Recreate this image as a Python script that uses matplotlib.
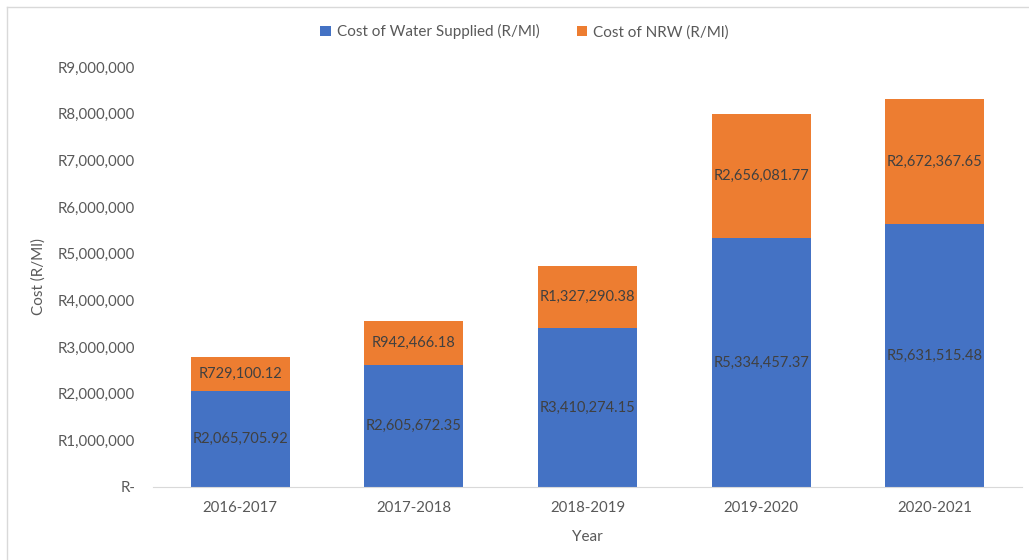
import matplotlib.pyplot as plt
from matplotlib.lines import Line2D
from matplotlib.ticker import FuncFormatter

years = ['2016-2017', '2017-2018', '2018-2019', '2019-2020', '2020-2021']
water_supplied = [2065705.92, 2605672.35, 3410274.15, 5334457.37, 5631515.48]
nrw_cost = [729100.12, 942466.18, 1327290.38, 2656081.77, 2672367.65]

BLUE = '#4472C4'
ORANGE = '#ED7D31'
TEXT = '#595959'

plt.rcParams['font.family'] = ['Lato', 'DejaVu Sans']

fig = plt.figure(figsize=(10.29, 5.6), dpi=100)
ax = fig.add_axes([0.149, 0.1304, 0.844, 0.7500])

x = range(len(years))
b1 = ax.bar(x, water_supplied, width=0.57, color=BLUE, label='Cost of Water Supplied (R/Ml)')
b2 = ax.bar(x, nrw_cost, width=0.57, bottom=water_supplied, color=ORANGE, label='Cost of NRW (R/Ml)')

for bars in (b1, b2):
    ax.bar_label(bars, labels=[f'R{v:,.2f}' for v in bars.datavalues],
                 label_type='center', color='#404040', fontsize=10.5)

ax.set_xlim(-0.5, len(years) - 0.5)
ax.set_ylim(0, 9000000)
ax.set_yticks(range(0, 9000001, 1000000))
ax.yaxis.set_major_formatter(FuncFormatter(lambda v, p: 'R-' if v == 0 else f'R{v:,.0f}'))
ax.set_xticks(list(x))
ax.set_xticklabels(years)
ax.tick_params(length=0, colors=TEXT, labelsize=10.8)
ax.tick_params(axis='y', pad=13)
ax.tick_params(axis='x', pad=10)

for s in ('top', 'right', 'left'):
    ax.spines[s].set_visible(False)
ax.spines['bottom'].set_color('#D9D9D9')

ax.set_xlabel('Year', color=TEXT, fontsize=11, labelpad=11)
ax.set_ylabel('Cost (R/Ml)', color=TEXT, fontsize=11, labelpad=9)

fig.legend(loc='center', bbox_to_anchor=(0.51, 0.943), ncol=2, frameon=False,
           fontsize=11, labelcolor=TEXT, handlelength=0.7, handleheight=0.7,
           columnspacing=2.4, handletextpad=0.4)

# chart area border (top and left visible in original)
fig.add_artist(Line2D([7 / 1029, 1.0], [1 - 7 / 560, 1 - 7 / 560], color='#D9D9D9', lw=1))
fig.add_artist(Line2D([7 / 1029, 7 / 1029], [0, 1 - 7 / 560], color='#D9D9D9', lw=1))

fig.savefig('out.png', dpi=100)
